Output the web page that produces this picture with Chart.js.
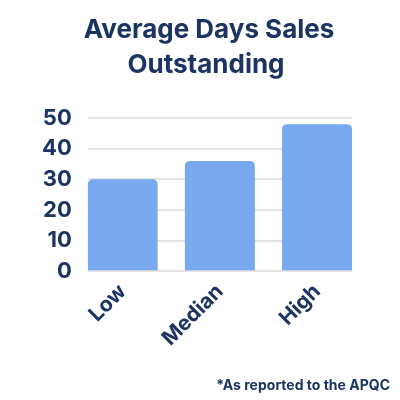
<!DOCTYPE html>
<html>
<head>
<meta charset="utf-8">
<script src="https://cdn.jsdelivr.net/npm/chart.js@4"></script>
<style>
  html, body { margin: 0; padding: 0; background: #fff; }
  #wrap { width: 400px; height: 400px; position: relative; }
</style>
</head>
<body>
<div id="wrap"><canvas id="chart"></canvas></div>
<script>
// Categories and values
var categories = ["Low", "Median", "High"];
var days = [30, 36, 48];
var yTicks = [0, 10, 20, 30, 40, 50];
var titleLines = ["Average Days Sales", "Outstanding"];
var footnote = "*As reported to the APQC";

var navy = "#1c3461";
var barColor = "#78a9ee";

// bars sit on a linear x axis so the outer bars touch the grid ends
var points = categories.map(function (c, i) {
  return { x: i, y: days[i] };
});

const ctx = document.getElementById("chart");

var myChart = new Chart(ctx, {
  type: "bar",
  data: {
    datasets: [
      {
        label: "Average Days Sales Outstanding",
        data: points,
        backgroundColor: barColor,
        borderRadius: { topLeft: 5, topRight: 5 },
        borderSkipped: "bottom",
        barPercentage: 0.72,
        categoryPercentage: 1,
      },
    ],
  },
  options: {
    responsive: true,
    maintainAspectRatio: false,
    animation: false,
    layout: {
      padding: { left: 26, right: 48, top: 118, bottom: 49 },
    },
    plugins: {
      legend: { display: false },
      tooltip: { enabled: false },
    },
    scales: {
      x: {
        type: "linear",
        offset: false,
        min: -0.36,
        max: 2.36,
        afterBuildTicks: function (axis) {
          axis.ticks = categories.map(function (c, i) { return { value: i }; });
        },
        grid: { display: false, offset: false },
        border: { display: false },
        ticks: {
          color: navy,
          minRotation: 45,
          maxRotation: 45,
          padding: 0,
          callback: function (value) {
            return categories[value];
          },
          font: { family: "Inter", size: 21, weight: "bold" },
        },
      },
      y: {
        min: 0,
        max: 50,
        afterBuildTicks: function (axis) {
          axis.ticks = yTicks.map(function (v) { return { value: v }; });
        },
        grid: { color: "#e3e3e3", lineWidth: 2, drawTicks: false },
        border: { display: false },
        ticks: {
          color: navy,
          padding: 16,
          font: { family: "Inter", size: 22, weight: "bold" },
        },
      },
    },
  },
  plugins: [
    {
      id: "titleAndNote",
      afterDraw: function (chart) {
        const c = chart.ctx;
        c.save();
        c.fillStyle = navy;
        c.textBaseline = "alphabetic";
        // Title, two centred lines
        c.textAlign = "center";
        c.font = "bold 26px Inter";
        c.fillText(titleLines[0], 209, 38);
        c.fillText(titleLines[1], 206, 73);
        // Footnote bottom right
        c.textAlign = "right";
        c.font = "bold 14px Inter";
        c.fillText(footnote, 390, 390);
        c.restore();
      },
    },
  ],
});
</script>
</body>
</html>
